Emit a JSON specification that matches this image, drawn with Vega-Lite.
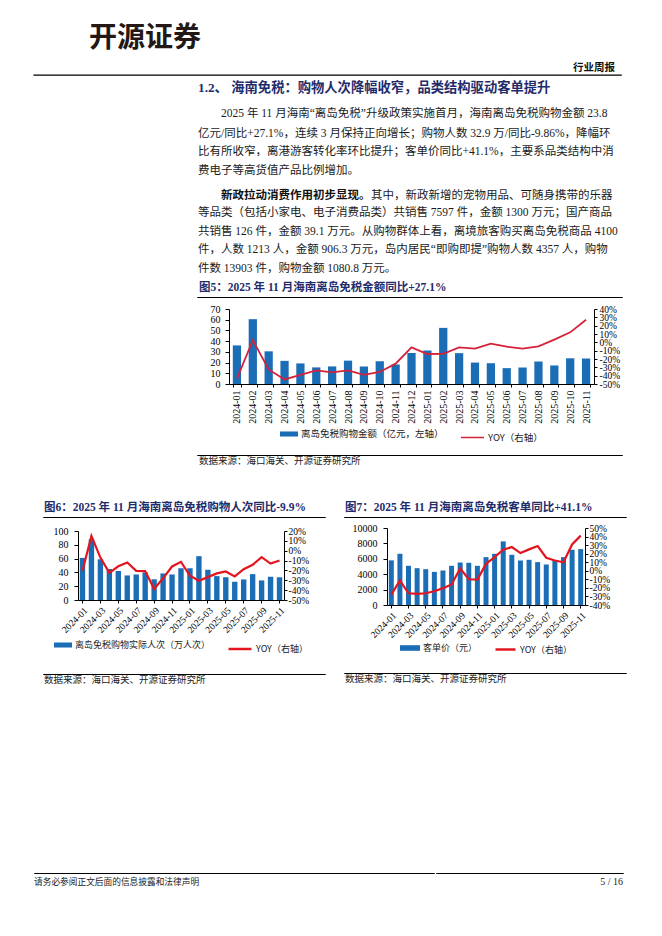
{
  "$schema": "https://vega.github.io/schema/vega-lite/v6.json",
  "background": "white",
  "padding": {"left": 33, "top": 25, "right": 0, "bottom": 0},
  "spacing": 0,
  "resolve": {"scale": {"color": "independent", "stroke": "independent"}},
  "config": {
    "view": {"stroke": null},
    "concat": {"spacing": 0},
    "axis": {"grid": false, "domainColor": "#000", "tickColor": "#000", "labelColor": "#000", "labelFont": "Liberation Serif", "labelFontSize": 10, "tickSize": 3, "labelPadding": 2},
    "legend": {"orient": "bottom", "direction": "horizontal", "labelFont": "Noto Sans CJK SC", "labelFontSize": 9, "labelColor": "#222", "labelLimit": 400, "padding": 0, "labelOffset": 3,
      "layout": {"bottom": {"anchor": "middle", "direction": "horizontal", "margin": 16}}}
  },
  "datasets": {
    "none": [],
    "fig5": [
      {"month": "2024-01", "amount": 36.0, "yoy": -43.5},
      {"month": "2024-02", "amount": 60.5, "yoy": 2.5},
      {"month": "2024-03", "amount": 30.5, "yoy": -32.5},
      {"month": "2024-04", "amount": 21.6, "yoy": -44.5},
      {"month": "2024-05", "amount": 19.2, "yoy": -39.0},
      {"month": "2024-06", "amount": 15.5, "yoy": -33.6},
      {"month": "2024-07", "amount": 16.4, "yoy": -36.0},
      {"month": "2024-08", "amount": 21.8, "yoy": -33.6},
      {"month": "2024-09", "amount": 16.4, "yoy": -39.0},
      {"month": "2024-10", "amount": 21.2, "yoy": -35.6},
      {"month": "2024-11", "amount": 18.2, "yoy": -25.6},
      {"month": "2024-12", "amount": 29.0, "yoy": -6.0},
      {"month": "2025-01", "amount": 31.2, "yoy": -14.0},
      {"month": "2025-02", "amount": 52.4, "yoy": -13.8},
      {"month": "2025-03", "amount": 28.8, "yoy": -6.0},
      {"month": "2025-04", "amount": 20.0, "yoy": -7.6},
      {"month": "2025-05", "amount": 19.4, "yoy": -1.6},
      {"month": "2025-06", "amount": 14.8, "yoy": -5.2},
      {"month": "2025-07", "amount": 15.4, "yoy": -7.6},
      {"month": "2025-08", "amount": 21.0, "yoy": -4.8},
      {"month": "2025-09", "amount": 17.3, "yoy": 3.2},
      {"month": "2025-10", "amount": 24.0, "yoy": 12.0},
      {"month": "2025-11", "amount": 23.8, "yoy": 27.1}
    ],
    "fig6": [
      {"month": "2024-01", "visits": 61.0, "yoy": -20.4},
      {"month": "2024-02", "visits": 88.0, "yoy": 15.0},
      {"month": "2024-03", "visits": 59.0, "yoy": -7.0},
      {"month": "2024-04", "visits": 45.0, "yoy": -22.5},
      {"month": "2024-05", "visits": 42.0, "yoy": -15.8},
      {"month": "2024-06", "visits": 35.6, "yoy": -12.0},
      {"month": "2024-07", "visits": 37.0, "yoy": -20.5},
      {"month": "2024-08", "visits": 40.0, "yoy": -20.7},
      {"month": "2024-09", "visits": 30.0, "yoy": -38.8},
      {"month": "2024-10", "visits": 38.5, "yoy": -28.0},
      {"month": "2024-11", "visits": 37.0, "yoy": -16.0},
      {"month": "2024-12", "visits": 46.0, "yoy": -11.3},
      {"month": "2025-01", "visits": 46.0, "yoy": -25.4},
      {"month": "2025-02", "visits": 63.5, "yoy": -30.4},
      {"month": "2025-03", "visits": 44.0, "yoy": -26.8},
      {"month": "2025-04", "visits": 34.6, "yoy": -23.0},
      {"month": "2025-05", "visits": 33.0, "yoy": -21.0},
      {"month": "2025-06", "visits": 26.4, "yoy": -26.0},
      {"month": "2025-07", "visits": 29.8, "yoy": -18.7},
      {"month": "2025-08", "visits": 37.5, "yoy": -14.3},
      {"month": "2025-09", "visits": 28.4, "yoy": -6.6},
      {"month": "2025-10", "visits": 33.7, "yoy": -13.0},
      {"month": "2025-11", "visits": 32.9, "yoy": -9.9}
    ],
    "fig7": [
      {"month": "2024-01", "price": 5800, "yoy": -27.9},
      {"month": "2024-02", "price": 6650, "yoy": -11.4},
      {"month": "2024-03", "price": 5090, "yoy": -26.3},
      {"month": "2024-04", "price": 4780, "yoy": -27.0},
      {"month": "2024-05", "price": 4650, "yoy": -26.3},
      {"month": "2024-06", "price": 4300, "yoy": -24.0},
      {"month": "2024-07", "price": 4480, "yoy": -20.3},
      {"month": "2024-08", "price": 5090, "yoy": -16.0},
      {"month": "2024-09", "price": 5520, "yoy": 2.7},
      {"month": "2024-10", "price": 5480, "yoy": -9.9},
      {"month": "2024-11", "price": 5090, "yoy": -10.3},
      {"month": "2024-12", "price": 6220, "yoy": 8.1},
      {"month": "2025-01", "price": 6650, "yoy": 16.0},
      {"month": "2025-02", "price": 8260, "yoy": 24.6},
      {"month": "2025-03", "price": 6520, "yoy": 27.7},
      {"month": "2025-04", "price": 5780, "yoy": 20.7},
      {"month": "2025-05", "price": 5870, "yoy": 25.0},
      {"month": "2025-06", "price": 5570, "yoy": 28.9},
      {"month": "2025-07", "price": 5260, "yoy": 15.2},
      {"month": "2025-08", "price": 5780, "yoy": 12.0},
      {"month": "2025-09", "price": 6220, "yoy": 10.0},
      {"month": "2025-10", "price": 7170, "yoy": 30.8},
      {"month": "2025-11", "price": 7260, "yoy": 41.1}
    ]
  },
  "vconcat": [
    {"width": 587, "height": 0.01, "data": {"name": "none"}, "mark": "text",
     "title": {"text": "开源证券", "font": "Noto Sans CJK SC", "fontSize": 28, "fontWeight": "bold", "color": "#231815", "anchor": "start", "frame": "group", "dx": 55, "offset": 8}},
    {"width": 587, "height": 0.01, "data": {"name": "none"}, "mark": "text",
     "view": {"stroke": "#000", "strokeWidth": 1.4},
     "title": {"text": "行业周报", "font": "Noto Sans CJK SC", "fontSize": 10.5, "fontWeight": "bold", "color": "#111", "anchor": "end", "frame": "group", "dx": -6, "offset": 1.5}},
    {"width": 1, "height": 5, "data": {"name": "none"}, "mark": "text"},
    {"width": 587, "height": 0.01, "data": {"name": "none"}, "mark": "text",
     "title": {"text": "1.2、 海南免税：购物人次降幅收窄，品类结构驱动客单提升", "font": "Liberation Serif, Noto Sans CJK SC", "fontSize": 13.3, "fontWeight": "bold", "color": "#1F2C6B", "anchor": "start", "frame": "group", "dx": 164, "offset": 12.5}},
    {"hconcat": [
      {"width": 187, "height": 0.01, "data": {"name": "none"}, "mark": "text"},
      {"width": 400, "height": 0.01, "data": {"name": "none"}, "mark": "text",
       "title": {"text": "2025 年 11 月海南“离岛免税”升级政策实施首月，海南离岛免税购物金额 23.8", "font": "Liberation Serif, Noto Sans CJK SC", "fontSize": 11.5, "fontWeight": "normal", "color": "#1a1a1a", "anchor": "start", "frame": "group", "offset": 6.5}}
    ]},
    {"width": 587, "height": 0.01, "data": {"name": "none"}, "mark": "text",
     "title": {"text": ["亿元/同比+27.1%，连续 3 月保持正向增长；购物人数 32.9 万/同比-9.86%，降幅环", "比有所收窄，离港游客转化率环比提升；客单价同比+41.1%，主要系品类结构中消", "费电子等高货值产品比例增加。"],
       "font": "Liberation Serif, Noto Sans CJK SC", "fontSize": 11.5, "fontWeight": "normal", "color": "#1a1a1a", "lineHeight": 18.5, "anchor": "start", "frame": "group", "dx": 164, "offset": 13}},
    {"hconcat": [
      {"width": 187, "height": 0.01, "data": {"name": "none"}, "mark": "text"},
      {"width": 149.5, "height": 0.01, "data": {"name": "none"}, "mark": "text",
       "title": {"text": "新政拉动消费作用初步显现。", "font": "Liberation Serif, Noto Sans CJK SC", "fontSize": 11.5, "fontWeight": "bold", "color": "#111", "anchor": "start", "frame": "group", "offset": 4.5}},
      {"width": 250.5, "height": 0.01, "data": {"name": "none"}, "mark": "text",
       "title": {"text": "其中，新政新增的宠物用品、可随身携带的乐器", "font": "Liberation Serif, Noto Sans CJK SC", "fontSize": 11.5, "fontWeight": "normal", "color": "#1a1a1a", "anchor": "start", "frame": "group", "offset": 4.5}}
    ]},
    {"width": 587, "height": 0.01, "data": {"name": "none"}, "mark": "text",
     "title": {"text": ["等品类（包括小家电、电子消费品类）共销售 7597 件，金额 1300 万元；国产商品", "共销售 126 件，金额 39.1 万元。从购物群体上看，离境旅客购买离岛免税商品 4100", "件，人数 1213 人，金额 906.3 万元，岛内居民“即购即提”购物人数 4357 人，购物", "件数 13903 件，购物金额 1080.8 万元。"],
       "font": "Liberation Serif, Noto Sans CJK SC", "fontSize": 11.5, "fontWeight": "normal", "color": "#1a1a1a", "lineHeight": 18.5, "anchor": "start", "frame": "group", "dx": 164, "offset": 6}},
    {"hconcat": [
      {"width": 162, "height": 0.01, "data": {"name": "none"}, "mark": "text"},
      {"width": 425, "height": 0.01, "data": {"name": "none"}, "mark": "text",
       "view": {"stroke": "#000", "strokeWidth": 1},
       "title": {"text": "图5：2025 年 11 月海南离岛免税金额同比+27.1%", "font": "Liberation Serif, Noto Sans CJK SC", "fontSize": 11.5, "fontWeight": "bold", "color": "#1F2C6B", "anchor": "start", "frame": "group", "dx": 2, "offset": 3.2}}
    ]},
    {"width": 1, "height": 5.7, "data": {"name": "none"}, "mark": "text"},
    {"hconcat": [
      {"width": 176, "height": 0.01, "data": {"name": "none"}, "mark": "text"},
      {"width": 365, "height": 75, "data": {"name": "fig5"},
       "encoding": {"x": {"field": "month", "type": "ordinal", "title": null, "scale": {"paddingInner": 0.48, "paddingOuter": 0.24},
         "axis": {"labelAngle": -90, "tickBand": "extent", "labelPadding": 3}}},
       "layer": [
         {"mark": {"type": "bar"},
          "encoding": {
            "y": {"field": "amount", "type": "quantitative", "title": null, "scale": {"domain": [0, 70]}, "axis": {"values": [0, 10, 20, 30, 40, 50, 60, 70], "tickSize": 4, "labelPadding": 5, "labelOverlap": false}},
            "color": {"datum": "离岛免税购物金额（亿元，左轴）", "type": "nominal", "scale": {"range": ["#1B6DB6"]},
              "legend": {"symbolType": "M-1,-0.28H1V0.28H-1Z", "symbolSize": 324, "symbolStrokeWidth": 0, "offset": 1, "labelFontSize": 9.5}}}},
         {"mark": {"type": "line", "strokeWidth": 1.8},
          "encoding": {
            "y": {"field": "yoy", "type": "quantitative", "title": null, "scale": {"domain": [-50, 40]},
              "axis": {"orient": "right", "values": [-50, -40, -30, -20, -10, 0, 10, 20, 30, 40], "labelExpr": "datum.value + '%'", "tickSize": 3, "labelPadding": 2, "labelOverlap": false, "labelFontSize": 9.5}},
            "stroke": {"datum": "YOY（右轴）", "type": "nominal", "scale": {"range": ["#D6213A"]},
              "legend": {"symbolType": "stroke", "symbolSize": 529, "symbolStrokeWidth": 1.5, "offset": 1, "labelFontSize": 9.5}}}}
       ],
       "resolve": {"scale": {"y": "independent"}}}
    ], "resolve": {"scale": {"color": "independent", "stroke": "independent"}}},
    {"width": 1, "height": 12, "data": {"name": "none"}, "mark": "text"},
    {"hconcat": [
      {"width": 162, "height": 0.01, "data": {"name": "none"}, "mark": "text"},
      {"width": 425, "height": 0.01, "data": {"name": "none"}, "mark": "text",
       "view": {"stroke": "#000", "strokeWidth": 1},
       "title": {"text": "数据来源：海口海关、开源证券研究所", "orient": "bottom", "font": "Noto Sans CJK SC", "fontSize": 9.5, "fontWeight": "normal", "color": "#222", "anchor": "start", "frame": "group", "dx": 2, "offset": 1}}
    ]},
    {"width": 1, "height": 33.7, "data": {"name": "none"}, "mark": "text"},
    {"hconcat": [
      {"width": 8, "height": 0.01, "data": {"name": "none"}, "mark": "text"},
      {"vconcat": [
        {"width": 282, "height": 0.01, "data": {"name": "none"}, "mark": "text",
         "view": {"stroke": "#000", "strokeWidth": 1},
         "title": {"text": "图6：2025 年 11 月海南离岛免税购物人次同比-9.9%", "font": "Liberation Serif, Noto Sans CJK SC", "fontSize": 11.5, "fontWeight": "bold", "color": "#1F2C6B", "anchor": "start", "frame": "group", "dx": 1, "offset": 3.2}},
        {"width": 1, "height": 7.3, "data": {"name": "none"}, "mark": "text"},
        {"hconcat": [
          {"width": 10, "height": 0.01, "data": {"name": "none"}, "mark": "text"},
          {"width": 206, "height": 69, "data": {"name": "fig6"},
           "encoding": {"x": {"field": "month", "type": "ordinal", "title": null, "scale": {"paddingInner": 0.4, "paddingOuter": 0.2},
             "axis": {"labelAngle": -45, "values": ["2024-01", "2024-03", "2024-05", "2024-07", "2024-09", "2024-11", "2025-01", "2025-03", "2025-05", "2025-07", "2025-09", "2025-11"], "labelPadding": 2, "labelFontSize": 9.5}}},
           "layer": [
             {"mark": {"type": "bar"},
              "encoding": {
                "y": {"field": "visits", "type": "quantitative", "title": null, "scale": {"domain": [0, 100]}, "axis": {"values": [0, 20, 40, 60, 80, 100], "tickSize": 4, "labelPadding": 6, "labelOverlap": false}},
                "color": {"datum": "离岛免税购物实际人次（万人次）", "type": "nominal", "scale": {"range": ["#1B6DB6"]},
                  "legend": {"symbolType": "M-1,-0.28H1V0.28H-1Z", "symbolSize": 324, "symbolStrokeWidth": 0, "offset": 1}}}},
             {"mark": {"type": "line", "strokeWidth": 2.2},
              "encoding": {
                "y": {"field": "yoy", "type": "quantitative", "title": null, "scale": {"domain": [-50, 20]},
                  "axis": {"orient": "right", "values": [-50, -40, -30, -20, -10, 0, 10, 20], "labelExpr": "datum.value + '%'", "tickSize": 3, "labelPadding": 1, "labelOverlap": false, "labelFontSize": 9.5}},
                "stroke": {"datum": "YOY（右轴）", "type": "nominal", "scale": {"range": ["#E3161F"]},
                  "legend": {"symbolType": "stroke", "symbolSize": 529, "symbolStrokeWidth": 2.5, "offset": 1}}}}
           ],
           "resolve": {"scale": {"y": "independent"}}}
        ], "resolve": {"scale": {"color": "independent", "stroke": "independent"}}},
        {"width": 1, "height": 19, "data": {"name": "none"}, "mark": "text"},
        {"width": 282, "height": 0.01, "data": {"name": "none"}, "mark": "text",
         "view": {"stroke": "#000", "strokeWidth": 1},
         "title": {"text": "数据来源：海口海关、开源证券研究所", "orient": "bottom", "font": "Noto Sans CJK SC", "fontSize": 9.5, "fontWeight": "normal", "color": "#222", "anchor": "start", "frame": "group", "dx": 1, "offset": 1}}
      ], "resolve": {"scale": {"color": "independent", "stroke": "independent"}}},
      {"width": 17, "height": 0.01, "data": {"name": "none"}, "mark": "text"},
      {"vconcat": [
        {"width": 282, "height": 0.01, "data": {"name": "none"}, "mark": "text",
         "view": {"stroke": "#000", "strokeWidth": 1},
         "title": {"text": "图7：2025 年 11 月海南离岛免税客单同比+41.1%", "font": "Liberation Serif, Noto Sans CJK SC", "fontSize": 11.5, "fontWeight": "bold", "color": "#1F2C6B", "anchor": "start", "frame": "group", "dx": 1, "offset": 3.2}},
        {"width": 1, "height": 4.3, "data": {"name": "none"}, "mark": "text"},
        {"hconcat": [
          {"width": 8, "height": 0.01, "data": {"name": "none"}, "mark": "text"},
          {"width": 198, "height": 77, "data": {"name": "fig7"},
           "encoding": {"x": {"field": "month", "type": "ordinal", "title": null, "scale": {"paddingInner": 0.42, "paddingOuter": 0.21},
             "axis": {"labelAngle": -45, "values": ["2024-01", "2024-03", "2024-05", "2024-07", "2024-09", "2024-11", "2025-01", "2025-03", "2025-05", "2025-07", "2025-09", "2025-11"], "labelPadding": 2, "labelFontSize": 9.5}}},
           "layer": [
             {"mark": {"type": "bar"},
              "encoding": {
                "y": {"field": "price", "type": "quantitative", "title": null, "scale": {"domain": [0, 10000]}, "axis": {"values": [0, 2000, 4000, 6000, 8000, 10000], "format": "d", "tickSize": 4, "labelPadding": 6, "labelOverlap": false}},
                "color": {"datum": "客单价（元）", "type": "nominal", "scale": {"range": ["#1B6DB6"]},
                  "legend": {"symbolType": "M-1,-0.28H1V0.28H-1Z", "symbolSize": 400, "symbolStrokeWidth": 0, "offset": -2}}}},
             {"mark": {"type": "line", "strokeWidth": 2.2},
              "encoding": {
                "y": {"field": "yoy", "type": "quantitative", "title": null, "scale": {"domain": [-40, 50]},
                  "axis": {"orient": "right", "values": [-40, -30, -20, -10, 0, 10, 20, 30, 40, 50], "labelExpr": "datum.value + '%'", "tickSize": 3, "labelPadding": 1, "labelOverlap": false, "labelFontSize": 9.5}},
                "stroke": {"datum": "YOY（右轴）", "type": "nominal", "scale": {"range": ["#E3161F"]},
                  "legend": {"symbolType": "stroke", "symbolSize": 400, "symbolStrokeWidth": 2.5, "offset": -2}}}}
           ],
           "resolve": {"scale": {"y": "independent"}}}
        ], "resolve": {"scale": {"color": "independent", "stroke": "independent"}}},
        {"width": 1, "height": 17, "data": {"name": "none"}, "mark": "text"},
        {"width": 282, "height": 0.01, "data": {"name": "none"}, "mark": "text",
         "view": {"stroke": "#000", "strokeWidth": 1},
         "title": {"text": "数据来源：海口海关、开源证券研究所", "orient": "bottom", "font": "Noto Sans CJK SC", "fontSize": 9.5, "fontWeight": "normal", "color": "#222", "anchor": "start", "frame": "group", "dx": 1, "offset": 1}}
      ], "resolve": {"scale": {"color": "independent", "stroke": "independent"}}}
    ], "resolve": {"scale": {"color": "independent", "stroke": "independent"}}},
    {"width": 1, "height": 185.5, "data": {"name": "none"}, "mark": "text"},
    {"hconcat": [
      {"width": 400, "height": 0.01, "data": {"name": "none"}, "mark": "text",
       "view": {"stroke": "#000", "strokeWidth": 1},
       "title": {"text": "请务必参阅正文后面的信息披露和法律声明", "orient": "bottom", "font": "Noto Sans CJK SC", "fontSize": 8.7, "fontWeight": "normal", "color": "#222", "anchor": "start", "frame": "group", "offset": 5}},
      {"width": 187, "height": 0.01, "data": {"name": "none"}, "mark": "text",
       "view": {"stroke": "#000", "strokeWidth": 1},
       "title": {"text": "5 / 16", "orient": "bottom", "font": "Liberation Serif", "fontSize": 10, "fontWeight": "normal", "color": "#222", "anchor": "end", "frame": "group", "offset": 4}}
    ]}
  ]
}
